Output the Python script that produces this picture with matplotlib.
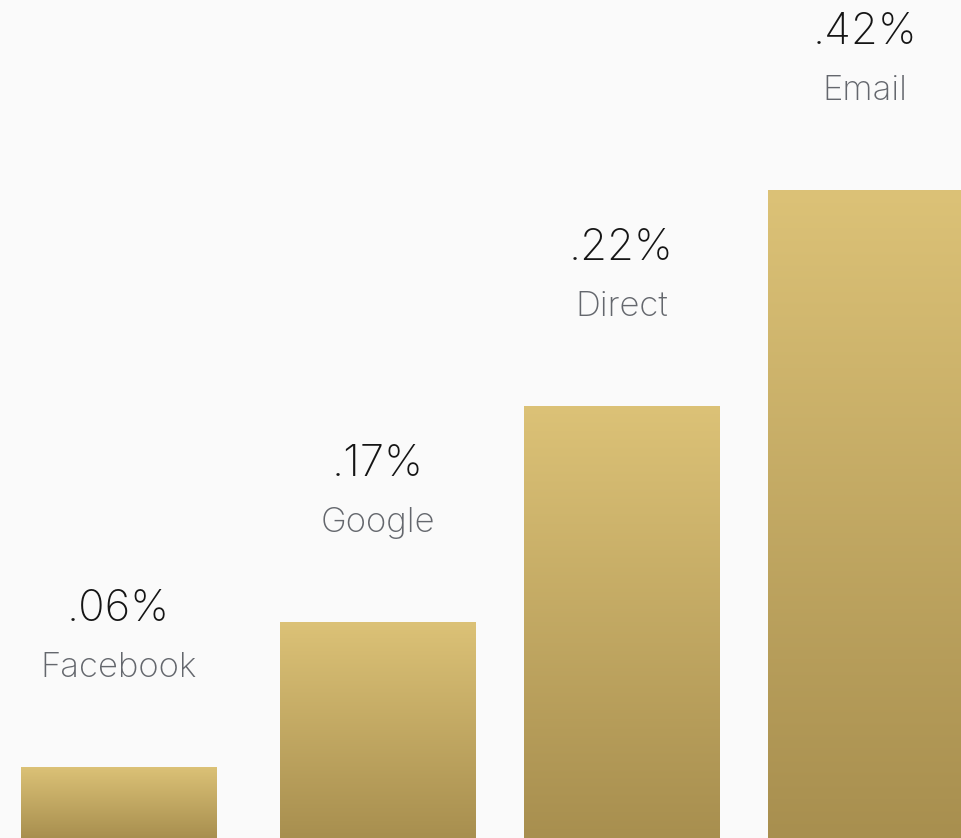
import numpy as np
import matplotlib
matplotlib.use('Agg')
from matplotlib import pyplot as plt
from matplotlib.colors import LinearSegmentedColormap

# data
channels = ['Facebook', 'Google', 'Direct', 'Email']
rates = ['.06%', '.17%', '.22%', '.42%']
# bar heights as drawn (arbitrary units, not proportional to the rates)
heights = [71, 216, 432, 648]

bgColor = '#fafafa'
gold = LinearSegmentedColormap.from_list('gold', ['#a88f4f', '#dcc277'])

fig = plt.figure(figsize=(9.61, 8.38), dpi=100, facecolor=bgColor)
ax = fig.add_axes([0, 0, 1, 1])
ax.set_facecolor(bgColor)

#first gap in the original is a little wider than the others
x = np.arange(len(channels)).astype(float)
x[1:] += 0.061
bars = ax.bar(x, heights, width=0.8, color='none', edgecolor='none')

#gradient fill, top to bottom inside each bar
grad = np.linspace(0, 1, 256).reshape(-1, 1)
for b in bars:
    x0, y0 = b.get_x(), b.get_y()
    img = ax.imshow(grad, cmap=gold, origin='lower', aspect='auto',
                    extent=[x0, x0 + b.get_width(), y0, y0 + b.get_height()],
                    interpolation='bicubic', zorder=2)
    img.set_clip_path(b)

for xi, h, name, rate in zip(x, heights, channels, rates):
    ax.annotate(name, (xi, h), xytext=(0, 99), textcoords='offset pixels',
                ha='center', va='center', fontsize=25, color='#64676d',
                family='Inter', fontweight='light')
    ax.annotate(rate, (xi, h), xytext=(0, 158), textcoords='offset pixels',
                ha='center', va='center', fontsize=31.5, color='#151515',
                family='Inter', fontweight='light')

ax.set_xlim(-0.486, 3.453)
ax.set_ylim(0, 838)
ax.axis('off')

plt.savefig('out.png', dpi=100, facecolor=bgColor)
